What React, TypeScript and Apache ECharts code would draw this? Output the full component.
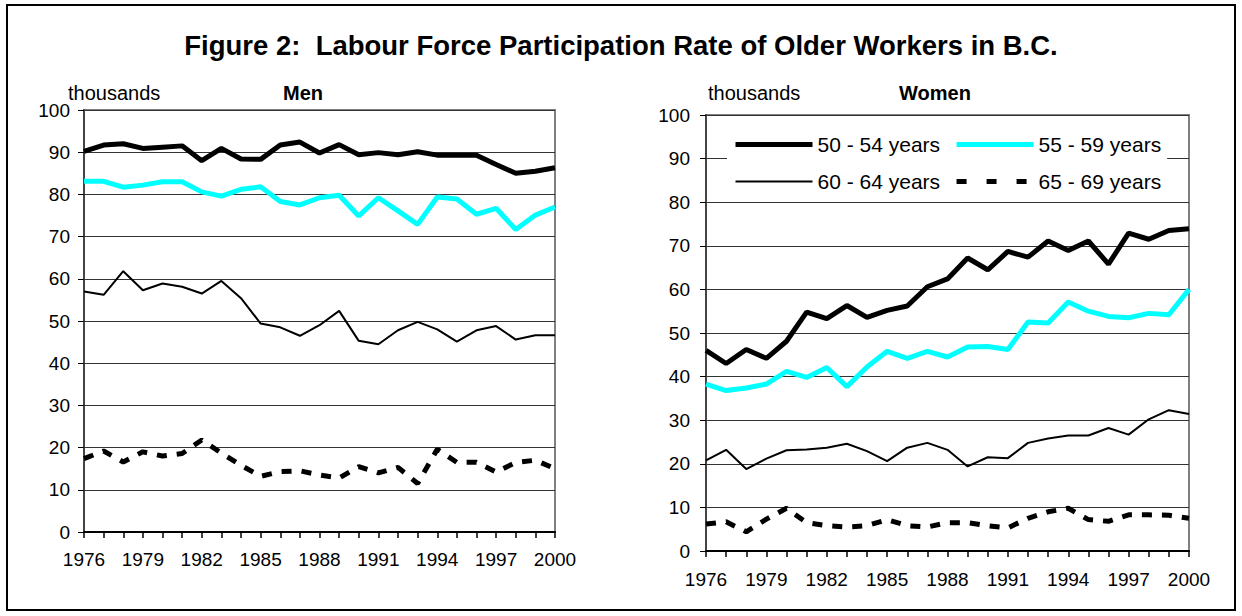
import React, { useEffect, useRef } from 'react';
import * as echarts from 'echarts';

const years = ['1976','1977','1978','1979','1980','1981','1982','1983','1984','1985','1986','1987','1988','1989','1990','1991','1992','1993','1994','1995','1996','1997','1998','1999','2000'];

const seriesNames = ['50 - 54 years', '55 - 59 years', '60 - 64 years', '65 - 69 years'];

const men50_54 = [90.2, 91.7, 92.0, 90.9, 91.2, 91.5, 88.0, 90.9, 88.4, 88.3, 91.7, 92.4, 89.8, 91.8, 89.4, 89.9, 89.4, 90.1, 89.3, 89.3, 89.3, 87.1, 85.0, 85.5, 86.3];
const men55_59 = [83.1, 83.1, 81.7, 82.2, 83.0, 83.0, 80.6, 79.6, 81.2, 81.8, 78.3, 77.5, 79.2, 79.8, 74.9, 79.2, 76.1, 72.9, 79.4, 78.9, 75.3, 76.7, 71.7, 75.1, 77.0];
const men60_64 = [57.0, 56.2, 61.8, 57.3, 58.9, 58.1, 56.5, 59.5, 55.4, 49.4, 48.5, 46.5, 49.0, 52.4, 45.3, 44.5, 47.8, 49.8, 48.0, 45.1, 47.8, 48.8, 45.6, 46.6, 46.6];
const men65_69 = [17.4, 19.2, 16.6, 19.0, 18.0, 18.6, 21.8, 18.7, 15.8, 13.2, 14.3, 14.5, 13.5, 12.8, 15.5, 14.0, 15.3, 11.5, 19.6, 16.5, 16.5, 14.2, 16.5, 17.0, 15.0];

const women50_54 = [46.0, 43.0, 46.2, 44.2, 48.1, 54.8, 53.3, 56.3, 53.6, 55.2, 56.2, 60.6, 62.4, 67.2, 64.5, 68.7, 67.4, 71.1, 68.9, 71.1, 65.8, 72.9, 71.5, 73.5, 73.9];
const women55_59 = [38.3, 36.8, 37.4, 38.3, 41.2, 39.8, 42.1, 37.7, 42.2, 45.8, 44.2, 45.8, 44.5, 46.8, 46.9, 46.2, 52.5, 52.3, 57.1, 55.0, 53.8, 53.5, 54.5, 54.2, 60.0];
const women60_64 = [20.8, 23.2, 18.8, 21.2, 23.1, 23.3, 23.7, 24.6, 22.9, 20.6, 23.7, 24.8, 23.2, 19.4, 21.5, 21.3, 24.8, 25.8, 26.5, 26.5, 28.2, 26.7, 30.2, 32.3, 31.4];
const women65_69 = [6.2, 6.7, 4.4, 7.3, 9.8, 6.5, 5.8, 5.5, 5.8, 7.2, 5.8, 5.5, 6.5, 6.5, 5.8, 5.3, 7.5, 9.0, 9.8, 7.2, 6.8, 8.3, 8.3, 8.2, 7.5];

const yTicks = { min: 0, max: 100, interval: 10 };

const FONT = 'Liberation Sans, Arial, sans-serif';

const lineStyles: any[] = [
  { color: '#000000', width: 5, type: 'solid' },
  { color: '#00FFFF', width: 5, type: 'solid' },
  { color: '#000000', width: 2, type: 'solid' },
  { color: '#000000', width: 5, type: [10, 10] },
];
const legendLineStyles: any[] = [
  { color: '#000000', width: 5, type: 'solid', opacity: 1 },
  { color: '#00FFFF', width: 5, type: 'solid', opacity: 1 },
  { color: '#000000', width: 2, type: 'solid', opacity: 1 },
  { color: '#000000', width: 5, type: [10, 20], opacity: 1 },
];

export default function App() {
  const ref = useRef<HTMLDivElement>(null);
  useEffect(() => {
    document.body.style.margin = '0';
    const chart = echarts.init(ref.current!, null, { renderer: 'svg' });

    const makeX = (gridIndex: number, margin: number) => ({
      type: 'category',
      gridIndex,
      data: years,
      boundaryGap: false,
      axisLine: { show: true, lineStyle: { color: '#000', width: 2 } },
      axisTick: { show: true, interval: 0, length: 6, inside: false, lineStyle: { color: '#000', width: 1.5 } },
      axisLabel: { interval: 2, margin, fontSize: 19, color: '#000', fontFamily: FONT },
      splitLine: { show: false },
    });
    const makeY = (gridIndex: number, margin: number) => ({
      type: 'value',
      gridIndex,
      min: yTicks.min,
      max: yTicks.max,
      interval: yTicks.interval,
      axisLine: { show: true, lineStyle: { color: '#444', width: 2 } },
      axisTick: { show: true, length: 6, inside: false, lineStyle: { color: '#000', width: 1 } },
      axisLabel: { margin, fontSize: 19, color: '#000', fontFamily: FONT },
      splitLine: { show: true, lineStyle: { color: '#333', width: 1 } },
    });

    const menData = [men50_54, men55_59, men60_64, men65_69];
    const womenData = [women50_54, women55_59, women60_64, women65_69];
    const series: any[] = [];
    [menData, womenData].forEach((group, gi) => {
      group.forEach((d, si) => {
        series.push({
          type: 'line',
          name: seriesNames[si],
          xAxisIndex: gi,
          yAxisIndex: gi,
          data: d,
          symbol: 'none',
          lineStyle: lineStyles[si],
          itemStyle: { color: lineStyles[si].color },
          z: 10 - si,
        });
      });
    });

    const titleStyle = { fontFamily: FONT, color: '#000' };

    chart.setOption({
      animation: false,
      backgroundColor: '#fff',
      title: [
        { text: 'Figure 2:  Labour Force Participation Rate of Older Workers in B.C.', left: 'center', top: 31, padding: 0, textStyle: { ...titleStyle, fontSize: 27.5, fontWeight: 'bold' } },
        { text: 'thousands', left: 68, top: 83, padding: 0, textStyle: { ...titleStyle, fontSize: 20, fontWeight: 'normal' } },
        { text: 'Men', left: 283, top: 83, padding: 0, textStyle: { ...titleStyle, fontSize: 20, fontWeight: 'bold' } },
        { text: 'thousands', left: 708, top: 83, padding: 0, textStyle: { ...titleStyle, fontSize: 20, fontWeight: 'normal' } },
        { text: 'Women', left: 899, top: 83, padding: 0, textStyle: { ...titleStyle, fontSize: 20, fontWeight: 'bold' } },
      ],
      legend: {
        data: seriesNames.map((name, i) => ({ name, lineStyle: legendLineStyles[i], itemStyle: { opacity: 0 } })),
        left: 727,
        top: 128,
        width: 430,
        orient: 'horizontal',
        itemWidth: 77,
        itemHeight: 23,
        itemGap: 14,
        padding: [5, 6, 5, 6],
        backgroundColor: '#fff',
        selectedMode: false,
        itemStyle: { opacity: 0 },
        textStyle: { fontSize: 21, lineHeight: 23, color: '#000', fontFamily: FONT },
        z: 20,
      },
      grid: [
        { left: 84, top: 110, width: 471, height: 422, show: true, borderColor: '#808080', borderWidth: 2, backgroundColor: 'transparent' },
        { left: 706, top: 115, width: 483, height: 436, show: true, borderColor: '#808080', borderWidth: 2, backgroundColor: 'transparent' },
      ],
      xAxis: [makeX(0, 18), makeX(1, 19)],
      yAxis: [makeY(0, 14), makeY(1, 16)],
      series,
      graphic: [
        { type: 'rect', shape: { x: 7, y: 5, width: 1228, height: 605 }, style: { fill: 'none', stroke: '#000', lineWidth: 2 }, z: 100, silent: true },
      ],
    });
    return () => chart.dispose();
  }, []);
  return <div ref={ref} style={{ width: 1242, height: 616 }} />;
}
